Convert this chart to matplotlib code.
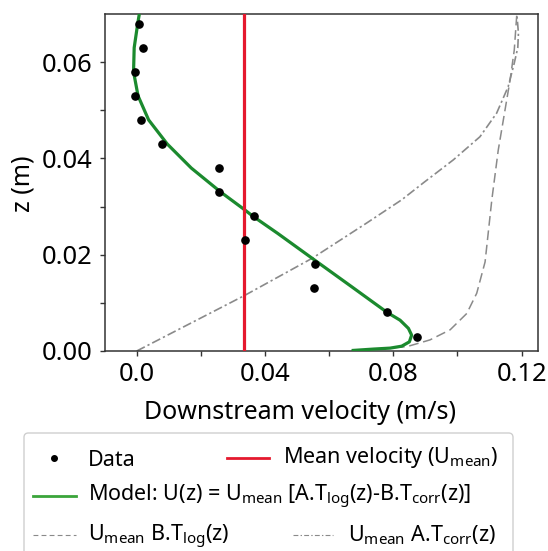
import matplotlib
matplotlib.use("Agg")
import matplotlib.pyplot as plt
from matplotlib.lines import Line2D
from matplotlib.patches import FancyBboxPatch

plt.rcParams['font.family'] = ['Noto Sans', 'DejaVu Sans']
plt.rcParams['mathtext.fontset'] = 'custom'
plt.rcParams['mathtext.rm'] = 'Noto Sans'
plt.rcParams['mathtext.it'] = 'Noto Sans:italic'
plt.rcParams['mathtext.bf'] = 'Noto Sans:bold'
plt.rcParams['lines.scale_dashes'] = False

# Measured downstream velocity profile
z_data = [0.003, 0.008, 0.013, 0.018, 0.023, 0.028, 0.033,
          0.038, 0.043, 0.048, 0.053, 0.058, 0.063, 0.068]
u_data = [0.0875, 0.0781, 0.0552, 0.0557, 0.0339, 0.0366, 0.0257,
          0.0257, 0.0080, 0.0012, -0.0006, -0.0006, 0.0021, 0.0007]

# Depth-averaged velocity
u_mean = 0.0335

# Model profile U(z)
model_u = [0.0670, 0.0738, 0.0790, 0.0826, 0.0850, 0.0857, 0.0847, 0.0821,
           0.0781, 0.0727, 0.0669, 0.0573, 0.0546, 0.0440, 0.0362, 0.0335,
           0.0262, 0.0170, 0.0095, 0.0037, 0.0004, -0.0010, -0.0008,
           0.0003, 0.0008]
model_z = [0.0001, 0.0004, 0.0006, 0.0010, 0.0019, 0.0033, 0.0047, 0.0064,
           0.0080, 0.0106, 0.0134, 0.0180, 0.0193, 0.0244, 0.0280, 0.0294,
           0.0330, 0.0380, 0.0430, 0.0480, 0.0530, 0.0580, 0.0630,
           0.0680, 0.0700]

# Log-law component
log_u = [0.0670, 0.0842, 0.0914, 0.0977, 0.1029, 0.1060, 0.1086, 0.1107,
         0.1127, 0.1148, 0.1164, 0.1177, 0.1185]
log_z = [0.0001, 0.0009, 0.0023, 0.0044, 0.0078, 0.0120, 0.0185, 0.0314,
         0.0417, 0.0500, 0.0563, 0.0625, 0.0700]

# Correction component
corr_u = [0.0, 0.0338, 0.0548, 0.0715, 0.0826, 0.0895, 0.0987, 0.1070,
          0.1122, 0.1158, 0.1177, 0.1188, 0.1190, 0.1185]
corr_z = [0.0, 0.0116, 0.0193, 0.0265, 0.0314, 0.0350, 0.0397, 0.0445,
          0.0494, 0.0549, 0.0598, 0.0630, 0.0660, 0.0700]

x_ticks = [0.0, 0.02, 0.04, 0.06, 0.08, 0.10, 0.12]
x_tick_labels = ['0.0', '', '0.04', '', '0.08', '', '0.12']
y_ticks = [0.00, 0.01, 0.02, 0.03, 0.04, 0.05, 0.06]
y_tick_labels = ['0.00', '', '0.02', '', '0.04', '', '0.06']

GREEN = '#1b8a2e'
GREEN_LEG = '#3aa53a'
RED = '#e5192e'
GREY = '#8a8a8a'
DASH = (7.0, 3.4)
DASHDOT = (6.5, 2.2, 1.6, 2.2)
LEG_FS = 15.5

W, H = 548, 551
fig = plt.figure(figsize=(W / 100, H / 100), dpi=100)


def fx(px):
    return px / W


def fy(py):
    return 1 - py / H


ax = fig.add_axes([fx(105), fy(351), (538 - 105) / W, (351 - 13.5) / H])

ax.plot(log_u, log_z, color=GREY, lw=1.1, dashes=DASH, zorder=1)
ax.plot(corr_u, corr_z, color=GREY, lw=1.2, dashes=DASHDOT, zorder=1)
ax.plot(model_u, model_z, color=GREEN, lw=2.3, zorder=3,
        solid_capstyle='butt', solid_joinstyle='round')
ax.axvline(u_mean, color=RED, lw=2.3, zorder=4)
ax.plot(u_data, z_data, 'o', color='black', ms=5.2, zorder=5)

ax.set_xlim(-0.0099, 0.1251)
ax.set_ylim(0.0, 0.0701)
ax.set_xticks(x_ticks)
ax.set_xticklabels(x_tick_labels)
ax.set_yticks(y_ticks)
ax.set_yticklabels(y_tick_labels)
ax.tick_params(labelsize=18.4, length=3.8, width=1.0, color='#333333',
               direction='out')
ax.tick_params(axis='y', pad=5.5)
ax.tick_params(axis='x', pad=4.0)
for s in ax.spines.values():
    s.set_color('#333333')
    s.set_linewidth(1.1)

ax.set_xlabel('Downstream velocity (m/s)', fontsize=18)
ax.xaxis.set_label_coords((300 - 105) / 433, -0.145)
ax.set_ylabel('z (m)', fontsize=18)
ax.yaxis.set_label_coords((35 - 105) / 433, 0.495)

# Legend below the axes
box = FancyBboxPatch((fx(24), fy(600)), (513 - 24) / W, (600 - 433) / H,
                     boxstyle='round,pad=0,rounding_size=0.008',
                     transform=fig.transFigure, fc='white', ec='#cfcfcf',
                     lw=1.0, zorder=0)
fig.add_artist(box)

fig.add_artist(Line2D([fx(54)], [fy(458)], marker='o', ms=4.0,
                      color='black', ls='none', transform=fig.transFigure))
fig.text(fx(88), fy(466.5), 'Data', fontsize=LEG_FS, va='baseline')

fig.add_artist(Line2D([fx(227), fx(269)], [fy(457.7)] * 2, color=RED,
                      lw=2.0, transform=fig.transFigure))
fig.text(fx(283), fy(463.5), r'Mean velocity (U$_{\mathrm{mean}}$)',
         fontsize=LEG_FS, va='baseline')

fig.add_artist(Line2D([fx(33), fx(76)], [fy(496)] * 2, color=GREEN_LEG,
                      lw=2.0, transform=fig.transFigure))
fig.text(fx(88), fy(501.7),
         r'Model: U(z) = U$_{\mathrm{mean}}$ [A.T$_{\mathrm{log}}$(z)-B.T$_{\mathrm{corr}}$(z)]',
         fontsize=LEG_FS, va='baseline')

fig.add_artist(Line2D([fx(33), fx(76)], [fy(535)] * 2, color=GREY,
                      lw=0.8, dashes=(3.5, 2.3), transform=fig.transFigure))
fig.text(fx(88), fy(541.7), r'U$_{\mathrm{mean}}$ B.T$_{\mathrm{log}}$(z)',
         fontsize=LEG_FS, va='baseline')

fig.add_artist(Line2D([fx(293), fx(333)], [fy(535)] * 2, color=GREY,
                      lw=0.8, dashes=(3.5, 1.6, 1.0, 1.6),
                      transform=fig.transFigure))
fig.text(fx(348), fy(541.7), r'U$_{\mathrm{mean}}$ A.T$_{\mathrm{corr}}$(z)',
         fontsize=LEG_FS, va='baseline')

fig.savefig('out.png', dpi=100)
